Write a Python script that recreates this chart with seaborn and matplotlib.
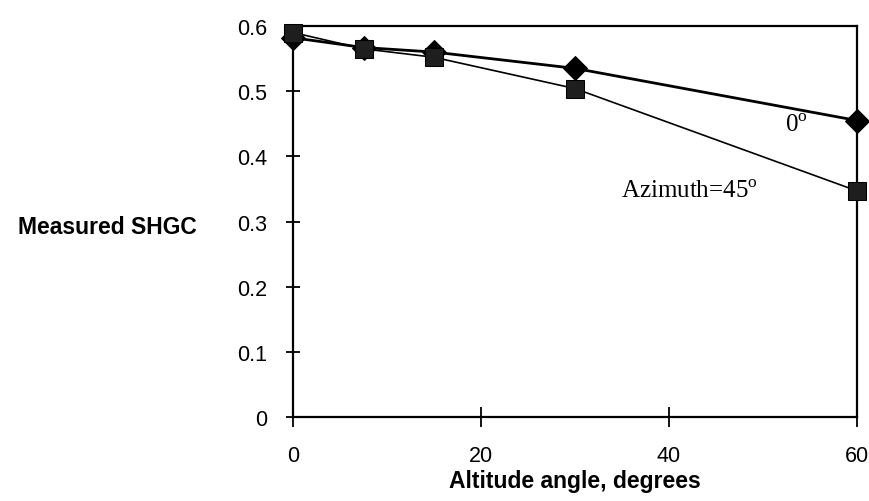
import matplotlib
matplotlib.use("Agg")
import matplotlib.pyplot as plt
import seaborn as sns
import pandas as pd

altitude = [0, 7.5, 15, 30, 60]
shgc_0deg = [0.582, 0.567, 0.560, 0.535, 0.455]
shgc_45deg = [0.590, 0.565, 0.552, 0.504, 0.347]
x_ticks = [0, 20, 40, 60]
y_ticks = [0, 0.1, 0.2, 0.3, 0.4, 0.5, 0.6]

sns.set_theme(style="white")
plt.rcParams['font.family'] = ['Liberation Sans', 'DejaVu Sans']
plt.rcParams['mathtext.fontset'] = 'custom'
plt.rcParams['mathtext.rm'] = 'Liberation Serif'
plt.rcParams['text.color'] = 'black'
plt.rcParams['axes.labelcolor'] = 'black'

fig = plt.figure(figsize=(8.69, 5.02), dpi=100)
ax = fig.add_axes([0.3372, 0.1673, 0.649, 0.7789])

df0 = pd.DataFrame({"x": altitude, "y": shgc_0deg})
df45 = pd.DataFrame({"x": altitude, "y": shgc_45deg})

sns.lineplot(data=df0, x="x", y="y", ax=ax, color="black", linewidth=2.0,
             marker="D", markersize=12, markeredgecolor="black", clip_on=False, zorder=3)
sns.lineplot(data=df45, x="x", y="y", ax=ax, color="black", linewidth=1.2,
             marker="s", markersize=12.5, markerfacecolor="#1e1e1e", markeredgecolor="black",
             clip_on=False, zorder=4)

ax.set_xlim(0, 60)
ax.set_ylim(0, 0.6)
ax.set_xticks(x_ticks)
ax.set_yticks(y_ticks)
ax.set_xticklabels([str(t) for t in x_ticks])
ax.set_yticklabels(["0"] + [f"{t:.1f}" for t in y_ticks[1:]])

for s in ax.spines.values():
    s.set_color("black")
    s.set_linewidth(1.6)

ax.tick_params(axis="both", direction="inout", width=1.3, colors="black",
               labelsize=15.5, labelcolor="black", bottom=True, left=True)
ax.tick_params(axis="x", length=14, pad=13)
ax.tick_params(axis="y", length=10, pad=13.5)

ax.set_xlabel("")
ax.set_ylabel("")
fig.text(575 / 869, 1 - 482 / 502, "Altitude angle, degrees", fontsize=16.5,
         fontweight="bold", ha="center", va="center", color="black")
fig.text(107 / 869, 1 - 227 / 502, "Measured SHGC", fontsize=16.5, fontweight="bold",
         ha="center", va="center", color="black")

ax.text(53.6, 0.449, r"0$^{\mathrm{o}}$", fontsize=18, family="Liberation Serif",
        ha="center", va="center", color="black")
ax.text(42.2, 0.347, r"Azimuth=45$^{\mathrm{o}}$", fontsize=18, family="Liberation Serif",
        ha="center", va="center", color="black")

fig.savefig("out.png", dpi=100, facecolor="white")
